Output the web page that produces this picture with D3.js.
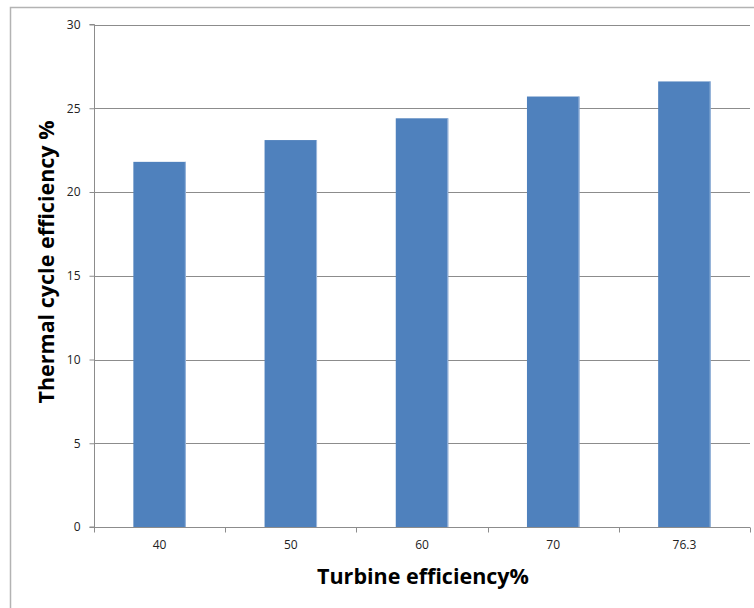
<!DOCTYPE html>
<html><head><meta charset="utf-8">
<script src="https://cdn.jsdelivr.net/npm/d3@7"></script>
<style>body{margin:0;background:#fff}svg{display:block}</style>
</head><body>
<script>
const categories = ["40","50","60","70","76.3"];
const values = [21.8, 23.1, 24.4, 25.7, 26.6];
const yTicks = [0,5,10,15,20,25,30];
const xTitle = "Turbine efficiency%";
const yTitle = "Thermal cycle efficiency %";

const W = 754, H = 608;
const m = {left:94, right:4, top:24.5, bottom:81};
const svg = d3.select("body").append("svg").attr("width",W).attr("height",H);
const font = "'Open Sans', Lato, sans-serif";

// outer frame
svg.append("path").attr("d","M10.5,620 V7.5 H770").attr("fill","none").attr("stroke","#b3b3b3").attr("stroke-width",1.5);

const x = d3.scaleBand().domain(categories).range([m.left, W-m.right]).paddingInner(0).paddingOuter(0);
const y = d3.scaleLinear().domain([0,30]).range([H-m.bottom, m.top]);

// gridlines
svg.append("g").selectAll("line").data(yTicks.filter(d=>d>0)).join("line")
  .attr("x1",m.left).attr("x2",W-m.right)
  .attr("y1",d=>Math.round(y(d))+0.5).attr("y2",d=>Math.round(y(d))+0.5)
  .attr("stroke","#8c8c8c").attr("stroke-width",1);

// bars
const bw = x.bandwidth()*0.4;
svg.append("g").selectAll("rect").data(values).join("rect")
  .attr("x",(d,i)=>x(categories[i])+x.bandwidth()/2-bw/2)
  .attr("width",bw)
  .attr("y",d=>y(d)).attr("height",d=>y(0)-y(d))
  .attr("fill","#4f81bd");
svg.append("g").selectAll("line").data(values).join("line")
  .attr("x1",(d,i)=>x(categories[i])+x.bandwidth()/2+bw/2-0.5)
  .attr("x2",(d,i)=>x(categories[i])+x.bandwidth()/2+bw/2-0.5)
  .attr("y1",d=>y(d)).attr("y2",y(0))
  .attr("stroke","#9db8dc").attr("stroke-width",1);

// y axis
const yAxis = d3.axisLeft(y).tickValues(yTicks).tickSize(5).tickPadding(9).tickFormat(d3.format("d"));
const gy = svg.append("g").attr("transform",`translate(${m.left+0.5},0)`).call(yAxis);
gy.select(".domain").attr("stroke","#8c8c8c").attr("d",`M-5,${y(30)}H0V${y(0)}H-5`);
gy.selectAll(".tick line").attr("stroke","#8c8c8c");
gy.selectAll("text").attr("font-family",font).attr("font-size",12).attr("fill","#222");

// x axis
const xAxis = d3.axisBottom(x).tickSize(0).tickPadding(13);
const gx = svg.append("g").attr("transform",`translate(0,${Math.round(y(0))+0.5})`).call(xAxis);
gx.select(".domain").attr("stroke","#8c8c8c").attr("d",`M${m.left},0H${W-m.right}`);
gx.selectAll(".tick line").remove();
gx.selectAll("text").attr("font-family",font).attr("font-size",12).attr("fill","#222");
// boundary ticks
const bounds = categories.map(c=>x(c)).concat([W-m.right]);
gx.selectAll(".bt").data(bounds).join("line").attr("class","bt")
  .attr("x1",d=>Math.round(d)+0.5).attr("x2",d=>Math.round(d)+0.5).attr("y1",0).attr("y2",5)
  .attr("stroke","#8c8c8c");

// titles
svg.append("text").attr("x",423).attr("y",584).attr("text-anchor","middle")
  .attr("font-family",font).attr("font-weight","bold").attr("font-size",21.5)
  .attr("fill","#000").text(xTitle);
svg.append("text").attr("transform","translate(54,262) rotate(-90)").attr("text-anchor","middle")
  .attr("font-family",font).attr("font-weight","bold").attr("font-size",21.5)
  .attr("fill","#000").text(yTitle);
</script>
</body></html>
